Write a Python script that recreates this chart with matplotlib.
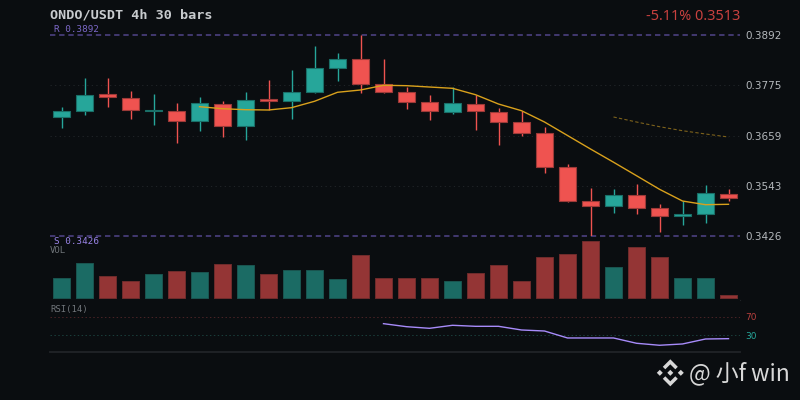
import matplotlib
matplotlib.use("Agg")
import matplotlib.pyplot as plt
from matplotlib.patches import Polygon

opens = [.37026,.37165,.37545,.37466,.37165,.37165,.36933,.37327,.36803,.37429,.37383,.37605,.38148,.38371,.37791,
         .37592,.37367,.37142,.37327,.37142,.36896,.36648,.3586,.35064,.34962,.35204,.34902,.34717,.34763,.35241]
closes = [.37151,.37522,.37476,.37174,.37181,.36933,.37337,.36817,.3742,.37383,.37592,.38148,.38357,.37791,.37592,
          .37374,.37151,.37337,.37151,.36903,.36655,.35867,.35071,.34962,.35218,.34902,.34717,.34763,.3525,.35134]
highs = [.37244,.37916,.3793,.37615,.37545,.37337,.3749,.37397,.37592,.37877,.38102,.38672,.38503,.3892,.38357,
         .37707,.37522,.37707,.37536,.37221,.37158,.36787,.35922,.35373,.35343,.35466,.35009,.35064,.35442,.35357]
lows = [.36764,.37072,.37258,.3698,.36833,.36416,.36694,.36562,.36486,.37174,.3698,.37568,.37854,.37582,.37568,
        .37204,.36942,.37095,.36718,.36377,.36585,.35728,.35041,.3426,.348,.34763,.34353,.34508,.34554,.35078]
ma_short = [.37258,.37211,.37188,.37181,.37235,.37383,.37592,.37645,.37754,.37745,.37714,.37684,.37536,.3732,
            .37165,.36903,.3659,.36277,.35971,.35658,.35343,.35071,.34986,.34995]
ma_short_start = 6
ma_long = [.37019,.36903,.36794,.36701,.36625,.36555]
ma_long_start = 24
volumes = [58,103,64,49,72,79,76,101,98,72,83,83,57,129,60,60,60,50,74,99,51,122,131,170,91,151,123,59,59,9]
rsi = [55,48.5,45,51.5,49.3,49.3,41.4,39.2,24.2,24.2,24.2,12.8,8.5,11.3,22,22.7]
rsi_start = 14
price_ticks = [0.3892, 0.3775, 0.3659, 0.3543, 0.3426]
resistance = 0.3892
support = 0.3426

BG = "#0a0d10"
UP = "#26a69a"
DOWN = "#ef5350"
W, H = 800, 400

def box(top, bottom, left=50, right=740):
    return [left / W, 1 - bottom / H, (right - left) / W, (bottom - top) / H]

plt.rcParams["font.family"] = ["DejaVu Sans"]
fig = plt.figure(figsize=(8, 4), dpi=100, facecolor=BG)
ax = fig.add_axes(box(35, 236))
axv = fig.add_axes(box(241, 300.3))
axr = fig.add_axes(box(300.3, 352))

for a in (ax, axv, axr):
    a.set_facecolor(BG)
    a.set_xlim(-0.5, 29.5)
    a.set_xticks([])
    for s in a.spines.values():
        s.set_visible(False)
    a.tick_params(axis="y", length=0, right=True, left=False, labelright=True, labelleft=False)

# price
ax.set_ylim(support, resistance)
ax.set_yticks(price_ticks, [f"{t:.4f}" for t in price_ticks])
ax.tick_params(axis="y", labelsize=7.5, labelcolor="#b4b8bc", pad=4)
for t in price_ticks[1:-1]:
    ax.axhline(t, color="#24282c", lw=0.6, ls=(0, (1.5, 4)), zorder=1)
for t in (resistance, support):
    ax.axhline(t, color="#51458a", lw=1.1, ls=(0, (3.5, 2.5)), zorder=1, clip_on=False)

for i, (o, c, h, l) in enumerate(zip(opens, closes, highs, lows)):
    col = UP if c >= o else DOWN
    edge = "#1a6f68" if c >= o else "#9c3a38"
    ax.vlines(i, l, h, color=col, lw=1.0, zorder=2)
    ax.bar(i, abs(c - o), bottom=min(o, c), width=0.7, color=col, edgecolor=edge, linewidth=0.8, zorder=3)

ax.plot(range(ma_short_start, ma_short_start + len(ma_short)), ma_short, color="#d9a11c", lw=1.0, zorder=4)
ax.plot(range(ma_long_start, ma_long_start + len(ma_long)), ma_long, color="#7d621c", lw=0.8,
        ls=(0, (3, 2)), zorder=4)

# volume
axv.set_ylim(-8, 170)
axv.set_yticks([])
vcols = ["#1b6b64" if c >= o else "#943535" for o, c in zip(opens, closes)]
vedges = ["#1a5550" if c >= o else "#702c2c" for o, c in zip(opens, closes)]
axv.bar(range(len(volumes)), volumes, width=0.7, color=vcols, edgecolor=vedges, linewidth=0.7)
axv.spines["bottom"].set_visible(True)
axv.spines["bottom"].set_color("#1f2226")
axv.spines["bottom"].set_linewidth(0.8)

# RSI
axr.set_ylim(-6, 105.3)
axr.set_yticks([70, 30], ["70", "30"])
axr.tick_params(axis="y", labelsize=6.5, pad=4)
labs = axr.get_yticklabels()
labs[0].set_color("#b8403e")
labs[1].set_color("#26a69a")
axr.axhline(70, color="#4a2326", lw=0.7, ls=(0, (1.5, 2.5)))
axr.axhline(30, color="#1a3f3c", lw=0.7, ls=(0, (1.5, 2.5)))
axr.plot(range(rsi_start, rsi_start + len(rsi)), rsi, color="#a78bfa", lw=1.0)
axr.spines["bottom"].set_visible(True)
axr.spines["bottom"].set_color("#1f2226")
axr.spines["bottom"].set_linewidth(1.4)

# texts
fig.text(50 / W, 1 - 15.5 / H, "ONDO/USDT 4h 30 bars", family="DejaVu Sans Mono", fontweight="bold",
         fontsize=9.7, color="#c8cbce", va="center", ha="left")
fig.text(740 / W, 1 - 16 / H, "-5.11% 0.3513", fontsize=10.4, color="#c9413f", va="center", ha="right",
         family="Noto Sans")
fig.text(54 / W, 1 - 29 / H, "R 0.3892", family="DejaVu Sans Mono", fontsize=6.7, color="#7c68c8", va="center")
fig.text(54 / W, 1 - 242 / H, "S 0.3426", family="DejaVu Sans Mono", fontsize=6.7, color="#9a84e8", va="center")
fig.text(50 / W, 1 - 251 / H, "VOL", family="DejaVu Sans Mono", fontsize=6.5, color="#70757a", va="center")
fig.text(50 / W, 1 - 309.5 / H, "RSI(14)", family="DejaVu Sans Mono", fontsize=6.5, color="#70757a", va="center")

# watermark
WM = "#d8d8d8"
fig.text(689 / W, 1 - 373 / H, "@ 小f win", fontsize=16.5, color=WM, va="center", ha="left",
         family=["Noto Sans CJK SC", "DejaVu Sans"])
cx, cy = 670.3, 372.8
logo_shapes = [
    [(0, -13.5), (7.5, -6), (5, -3.5), (0, -8.5), (-5, -3.5), (-7.5, -6)],
    [(0, 13.5), (7.5, 6), (5, 3.5), (0, 8.5), (-5, 3.5), (-7.5, 6)],
    [(-13.5, 0), (-10.5, -3), (-7.5, 0), (-10.5, 3)],
    [(13.5, 0), (10.5, -3), (7.5, 0), (10.5, 3)],
    [(0, -3), (3, 0), (0, 3), (-3, 0)],
]
for shape in logo_shapes:
    fig.add_artist(Polygon([((cx + x) / W, 1 - (cy + y) / H) for x, y in shape], closed=True,
                           transform=fig.transFigure, facecolor=WM, edgecolor="none"))

fig.savefig("out.png", dpi=100, facecolor=BG)
